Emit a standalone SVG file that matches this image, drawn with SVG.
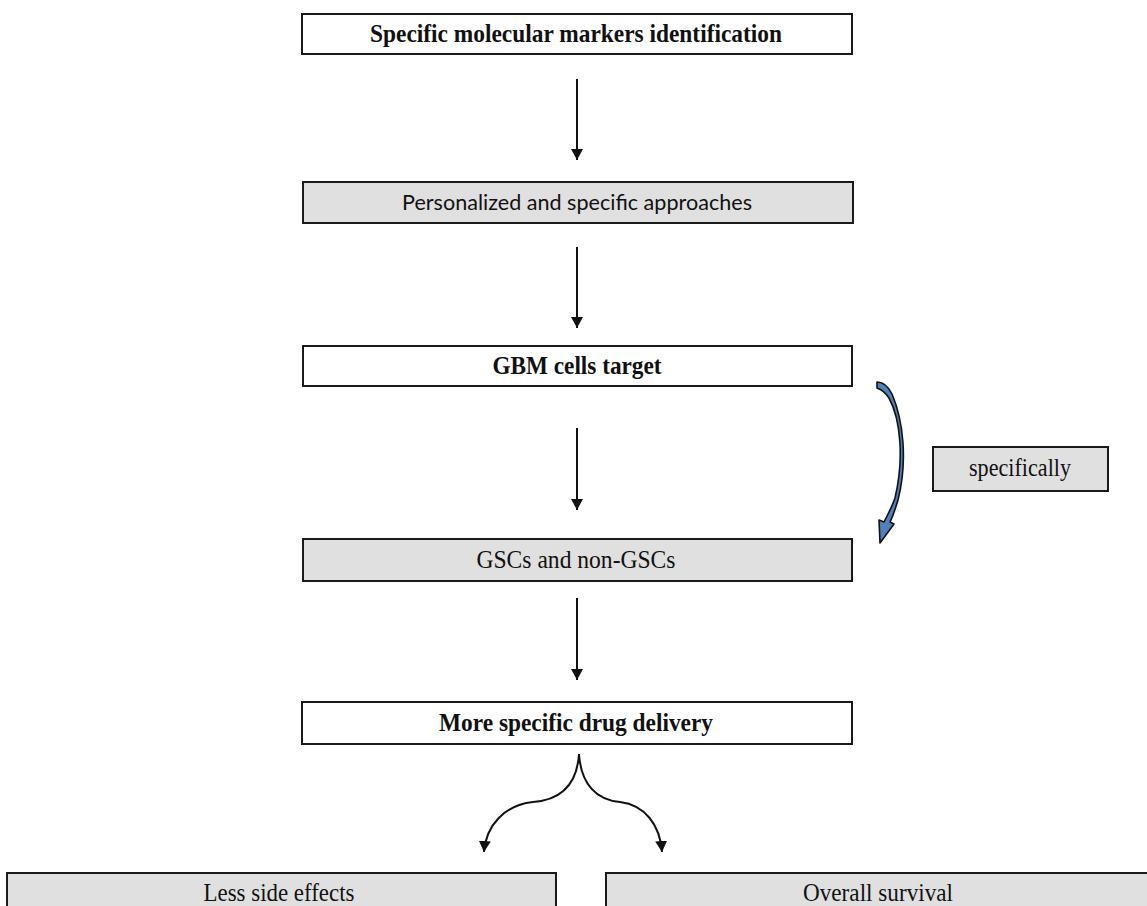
<svg xmlns="http://www.w3.org/2000/svg" width="1147" height="906" viewBox="0 0 1147 906">
<style>
.box{stroke:#1a1a1a;stroke-width:2}
.w{fill:#ffffff}
.g{fill:#e0e0e0}
.b{font-family:"Liberation Serif",serif;font-weight:bold;font-size:25px;fill:#111;text-anchor:middle}
.s{font-family:"Liberation Serif",serif;font-size:25px;fill:#111;text-anchor:middle}
.c{font-family:Lato,"Open Sans","Liberation Sans",sans-serif;font-size:22px;fill:#111;text-anchor:middle}
.ln{stroke:#111;stroke-width:2;fill:none}
</style>
<defs>
<marker id="ah" viewBox="0 0 11 12" refX="11" refY="6" markerWidth="11" markerHeight="12" markerUnits="userSpaceOnUse" orient="auto">
<path d="M0,0 L11,6 L0,12 Z" fill="#111"/>
</marker>
</defs>
<rect width="1147" height="906" fill="#fff"/>
<g id="n1"><rect class="box w" x="302" y="14" width="550" height="40"/><text class="b" x="576" y="42" textLength="412" lengthAdjust="spacingAndGlyphs">Specific molecular markers identification</text></g>
<g id="n2"><rect class="box g" x="303" y="182" width="550" height="41"/><text class="c" x="577" y="210" textLength="350" lengthAdjust="spacingAndGlyphs">Personalized and specific approaches</text></g>
<g id="n3"><rect class="box w" x="303" y="346" width="549" height="40"/><text class="b" x="577" y="374" textLength="169" lengthAdjust="spacingAndGlyphs">GBM cells target</text></g>
<g id="n4"><rect class="box g" x="303" y="539" width="549" height="42"/><text class="s" x="576" y="568" textLength="199" lengthAdjust="spacingAndGlyphs">GSCs and non-GSCs</text></g>
<g id="n5"><rect class="box w" x="302" y="702" width="550" height="42"/><text class="b" x="576" y="731" textLength="274" lengthAdjust="spacingAndGlyphs">More specific drug delivery</text></g>
<g id="n6"><rect class="box g" x="933" y="447" width="175" height="44"/><text class="s" x="1020" y="476" textLength="102" lengthAdjust="spacingAndGlyphs">specifically</text></g>
<g id="n7"><rect class="box g" x="7" y="873" width="549" height="45"/><text class="s" x="279" y="901" textLength="151" lengthAdjust="spacingAndGlyphs">Less side effects</text></g>
<g id="n8"><rect class="box g" x="606" y="873" width="545" height="45"/><text class="s" x="878" y="901" textLength="150" lengthAdjust="spacingAndGlyphs">Overall survival</text></g>
<g id="connectors">
<line class="ln" x1="577" y1="79" x2="577" y2="160" marker-end="url(#ah)"/>
<line class="ln" x1="577" y1="247" x2="577" y2="328" marker-end="url(#ah)"/>
<line class="ln" x1="577" y1="428" x2="577" y2="510" marker-end="url(#ah)"/>
<line class="ln" x1="577" y1="598" x2="577" y2="680" marker-end="url(#ah)"/>
<path class="ln" d="M579,754 C577,785 560,800 533,802 C505,805 486,825 484,852" marker-end="url(#ah)"/>
<path class="ln" d="M579,754 C581,785 597,800 620,802 C645,805 660,825 662,852" marker-end="url(#ah)"/>
<path d="M877,382 C883,382 888,386 892,394 C903,420 908,460 898,500 C895,510 893,516 890,522 L894,524 L880,543 L879,520 L884,522 C888,514 892,507 895,498 C904,460 901,420 889,398 C885,392 880,389 877,388 Z" fill="#4f81bd" stroke="#111" stroke-width="1.6" stroke-linejoin="round"/>
</g>
</svg>
